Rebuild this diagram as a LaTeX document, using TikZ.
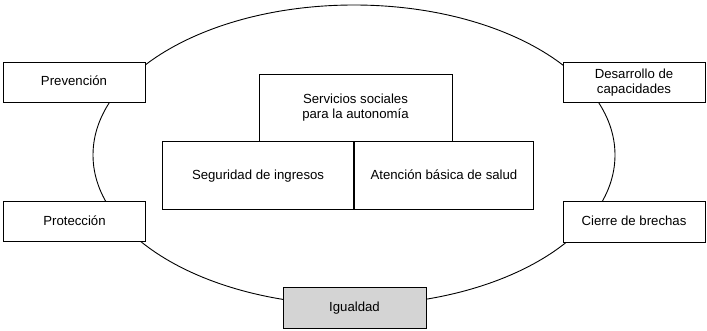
\documentclass[tikz,border=0pt]{standalone}
\usepackage{fontspec}
\setmainfont{Liberation Sans}
\begin{document}
\begin{tikzpicture}[x=1pt,y=-1pt,
  box/.style={draw=black, line width=0.9pt, fill=white, rectangle, inner sep=0pt, align=center,
     font=\fontsize{13.2}{15}\selectfont},
  oneline/.style={text height=0.72em, text depth=0pt},
  ring/.style={draw=black, line width=0.9pt}]
\useasboundingbox (0,0) rectangle (707,330);
\draw[ring] (354,155) ellipse [x radius=261, y radius=150];
\node[box, oneline, minimum width=142, minimum height=40] (prev) at (74,82) {Prevención};
\node[box, oneline, minimum width=142, minimum height=40] (prot) at (74.5,221.5) {Protección};
\node[box, minimum width=142, minimum height=40] (des) at (634,82.5) {Desarrollo de\\capacidades};
\node[box, oneline, minimum width=142, minimum height=41] (cier) at (634,221.5) {Cierre de brechas};
\node[box, oneline, fill={rgb,255:red,212;green,212;blue,212}, minimum width=143, minimum height=41] (igu) at (354.5,307.5) {Igualdad};
\node[box, minimum width=193, minimum height=67] (serv) at (355.5,107.5) {Servicios sociales\\para la autonomía};
\node[box, oneline, minimum width=191, minimum height=68, anchor=north east] (seg) at (354,141) {Seguridad de ingresos};
\node[box, oneline, minimum width=179, minimum height=68, anchor=north west] (aten) at (354,141) {Atención básica de salud};
\end{tikzpicture}
\end{document}
